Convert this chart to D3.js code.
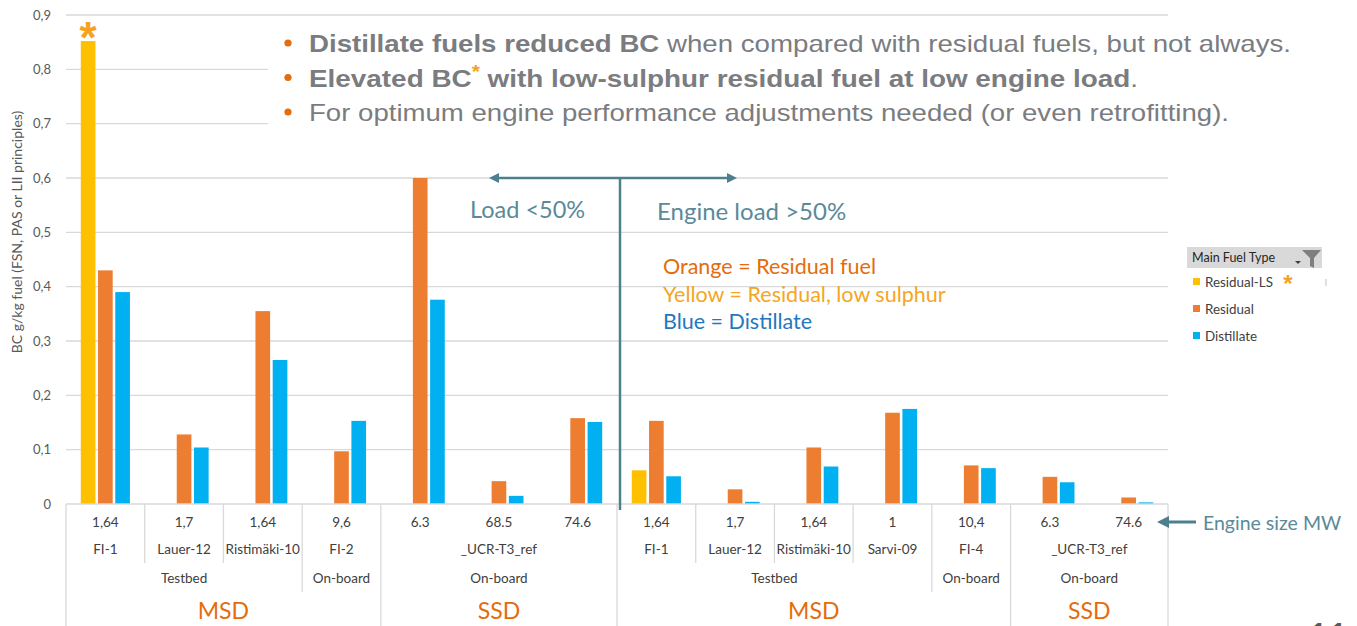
<!DOCTYPE html>
<html>
<head>
<meta charset="utf-8">
<script src="https://cdn.jsdelivr.net/npm/d3@7"></script>
<style>
  body { margin: 0; background: #fff; }
  svg { display: block; }
</style>
</head>
<body>
<svg id="chart" width="1357" height="626"></svg>
<script>
// chart data
var sizes = ["1,64", "1,7", "1,64", "9,6", "6.3", "68.5", "74.6", "1,64", "1,7", "1,64", "1", "10,4", "6.3", "74.6"];
var names = ["FI-1", "Lauer-12", "Ristimäki-10", "FI-2", "_UCR-T3_ref", "_UCR-T3_ref", "_UCR-T3_ref",
             "FI-1", "Lauer-12", "Ristimäki-10", "Sarvi-09", "FI-4", "_UCR-T3_ref", "_UCR-T3_ref"];
var setups = ["Testbed", "Testbed", "Testbed", "On-board", "On-board", "On-board", "On-board",
              "Testbed", "Testbed", "Testbed", "Testbed", "On-board", "On-board", "On-board"];
var engines = ["MSD", "MSD", "MSD", "MSD", "SSD", "SSD", "SSD", "MSD", "MSD", "MSD", "MSD", "MSD", "SSD", "SSD"];

var residualLS = [0.852, null, null, null, null, null, null, 0.062, null, null, null, null, null, null];
var residual   = [0.430, 0.128, 0.355, 0.097, 0.600, 0.042, 0.158, 0.153, 0.027, 0.104, 0.168, 0.071, 0.050, 0.012];
var distillate = [0.390, 0.104, 0.265, 0.153, 0.376, 0.015, 0.151, 0.051, 0.004, 0.069, 0.175, 0.066, 0.040, 0.003];

var yTicks = [0, 0.1, 0.2, 0.3, 0.4, 0.5, 0.6, 0.7, 0.8, 0.9];
var seriesNames = ["Residual-LS", "Residual", "Distillate"];
var seriesColors = ["#ffc000", "#ed7d31", "#00b0f0"];

var svg = d3.select("#chart");
var font = "Lato, 'Open Sans', sans-serif";
var teal = "#4d7f8e";

var x = d3.scaleBand().domain(d3.range(sizes.length)).range([66, 1168]);
var xs = d3.scaleBand().domain(seriesNames).range([13.5, x.bandwidth() - 13.5])
            .paddingInner(0.15).paddingOuter(0.075);
var y = d3.scaleLinear().domain([0, 0.9]).range([504, 15]);

// gridlines
svg.append("g").selectAll("line").data(yTicks.slice(1)).enter().append("line")
   .attr("x1", 66).attr("x2", 1168)
   .attr("y1", d => y(d)).attr("y2", d => y(d))
   .attr("stroke", "#d9d9d9").attr("stroke-width", 1.3);

// y axis labels
var yAxis = d3.axisLeft(y).tickValues(yTicks).tickSize(0).tickPadding(0)
              .tickFormat(d => d === 0 ? "0" : d3.format(".1f")(d).replace(".", ","));
var ya = svg.append("g").attr("transform", "translate(51,0)").call(yAxis);
ya.select(".domain").remove();
ya.selectAll("text").attr("font-family", font).attr("font-size", 13).attr("fill", "#595959");

svg.append("text")
   .attr("transform", "translate(22,232) rotate(-90)")
   .attr("text-anchor", "middle")
   .attr("font-family", font).attr("font-size", 14).attr("fill", "#595959")
   .text("BC g/kg fuel (FSN, PAS or LII principles)");

// bars
var series = [residualLS, residual, distillate];
series.forEach(function(vals, s){
  svg.append("g").selectAll("rect")
     .data(vals.map((v, i) => ({i: i, v: v})).filter(d => d.v != null))
     .enter().append("rect")
     .attr("x", d => x(d.i) + xs(seriesNames[s]))
     .attr("width", xs.bandwidth())
     .attr("y", d => y(d.v))
     .attr("height", d => y(0) - y(d.v))
     .attr("fill", seriesColors[s]);
});

// asterisk on the big yellow bar
svg.append("text")
   .attr("x", x(0) + xs("Residual-LS") + xs.bandwidth() / 2)
   .attr("y", y(residualLS[0]) + 12)
   .attr("text-anchor", "middle")
   .attr("font-family", "'Liberation Sans', Arial, sans-serif").attr("font-weight", "bold")
   .attr("font-size", 44).attr("fill", "#f5a21e").text("*");

// category axis
svg.append("line").attr("x1", 66).attr("x2", 1168).attr("y1", 504).attr("y2", 504)
   .attr("stroke", "#d9d9d9").attr("stroke-width", 1.3);

var n = sizes.length;
var dividers = [{pos: 0, bottom: 626}, {pos: n, bottom: 626}];
for (var i = 1; i < n; i++) {
  var b = null;
  if (engines[i] !== engines[i - 1]) b = 626;
  else if (setups[i] !== setups[i - 1]) b = 592;
  else if (names[i] !== names[i - 1]) b = 563;
  if (b) dividers.push({pos: i, bottom: b});
}
svg.append("g").selectAll("line").data(dividers).enter().append("line")
   .attr("x1", d => d.pos < n ? x(d.pos) : x.range()[1])
   .attr("x2", d => d.pos < n ? x(d.pos) : x.range()[1])
   .attr("y1", 504).attr("y2", d => d.bottom)
   .attr("stroke", "#d9d9d9").attr("stroke-width", 1.3);

// spans for the grouped levels
function spans(keyFn, labelFn) {
  var out = [];
  for (var i = 0; i < n; i++) {
    var k = keyFn(i);
    if (out.length && out[out.length - 1].key === k) out[out.length - 1].end = i;
    else out.push({key: k, start: i, end: i, label: labelFn(i)});
  }
  return out;
}
function mid(s) { return (x(s.start) + x(s.end) + x.bandwidth()) / 2; }

var levels = [
  {data: sizes.map((d, i) => ({start: i, end: i, label: d})), y: 527, size: 13.5, color: "#404040"},
  {data: spans(i => engines[i] + setups[i] + names[i] + (i < 7 ? "a" : "b"), i => names[i]), y: 554, size: 13.5, color: "#404040"},
  {data: spans(i => engines[i] + setups[i] + (i < 7 ? "a" : "b"), i => setups[i]), y: 583, size: 13.5, color: "#404040"},
  {data: spans(i => engines[i] + (i < 7 ? "a" : "b"), i => engines[i]), y: 619, size: 23, color: "#e46c0a"}
];
levels.forEach(function(l){
  svg.append("g").selectAll("text").data(l.data).enter().append("text")
     .attr("x", d => mid(d)).attr("y", l.y)
     .attr("text-anchor", "middle")
     .attr("font-family", font).attr("font-size", l.size).attr("fill", l.color)
     .text(d => d.label);
});

// white box behind the bullets
svg.append("rect").attr("x", 268).attr("y", 24).attr("width", 1089).attr("height", 104).attr("fill", "#fff");

var bullets = [
  {len: 982, parts: [["Distillate fuels reduced BC", "bold"], [" when compared with residual fuels, but not always.", "normal"]]},
  {len: 829, parts: [["Elevated BC", "bold"], ["*", "star"], [" with low-sulphur residual fuel at low engine load", "bold"], [".", "normal"]]},
  {len: 920, parts: [["For optimum engine performance adjustments needed (or even retrofitting).", "normal"]]}
];
bullets.forEach(function(b, k){
  var by = 52 + k * 34.5;
  svg.append("circle").attr("cx", 288).attr("cy", by - 9).attr("r", 3.6).attr("fill", "#e46c0a");
  var t = svg.append("text").attr("x", 309).attr("y", by)
     .attr("font-family", "'Liberation Sans', Arial, sans-serif").attr("font-size", 24)
     .attr("fill", "#7a7c80")
     .attr("textLength", b.len).attr("lengthAdjust", "spacingAndGlyphs");
  b.parts.forEach(function(p){
    var ts = t.append("tspan").text(p[0]);
    if (p[1] === "bold") ts.attr("font-weight", "bold");
    if (p[1] === "star") ts.attr("font-weight", "bold").attr("fill", "#f5a21e")
                           .attr("font-size", 18).attr("dy", -9);
    if (p[1] === "bold" && p[0].charAt(0) === " " && k === 1) ts.attr("dy", 9);
  });
});

// load arrows
var defs = svg.append("defs");
defs.append("marker").attr("id", "ah").attr("viewBox", "0 0 10 10")
    .attr("refX", 5).attr("refY", 5).attr("markerWidth", 4).attr("markerHeight", 4)
    .attr("orient", "auto-start-reverse")
    .append("path").attr("d", "M0,0 L10,5 L0,10 z").attr("fill", teal);
svg.append("line").attr("x1", 494).attr("x2", 732).attr("y1", 178).attr("y2", 178)
   .attr("stroke", teal).attr("stroke-width", 2.5)
   .attr("marker-start", "url(#ah)").attr("marker-end", "url(#ah)");
svg.append("line").attr("x1", 620).attr("x2", 620).attr("y1", 177).attr("y2", 510)
   .attr("stroke", teal).attr("stroke-width", 2.5);
svg.append("text").attr("x", 470).attr("y", 218).attr("font-family", font).attr("font-size", 23.5)
   .attr("fill", "#5a8a99").text("Load <50%");
svg.append("text").attr("x", 657).attr("y", 220).attr("font-family", font).attr("font-size", 24)
   .attr("fill", "#5a8a99").text("Engine load >50%");

var notes = [["Orange = Residual fuel", "#e46c0a"], ["Yellow = Residual, low sulphur", "#f5a623"], ["Blue = Distillate", "#1f78c1"]];
svg.append("g").selectAll("text").data(notes).enter().append("text")
   .attr("x", 663).attr("y", (d, i) => 274 + i * 27.5)
   .attr("font-family", font).attr("font-size", 21.5).attr("fill", d => d[1]).text(d => d[0]);

// engine size arrow
svg.append("line").attr("x1", 1196).attr("x2", 1166).attr("y1", 522).attr("y2", 522)
   .attr("stroke", teal).attr("stroke-width", 3);
svg.append("path").attr("d", "M1157,522 L1169,516 L1169,528 z").attr("fill", teal);
svg.append("text").attr("x", 1203).attr("y", 530).attr("font-family", font).attr("font-size", 19.5)
   .attr("fill", "#5a8a99").text("Engine size MW");

// legend
var lg = svg.append("g");
lg.append("rect").attr("x", 1187).attr("y", 247).attr("width", 135).attr("height", 21).attr("fill", "#d9d9d9");
lg.append("text").attr("x", 1192).attr("y", 262).attr("font-family", font).attr("font-size", 12.5)
  .attr("fill", "#262626").text("Main Fuel Type");
lg.append("path").attr("d", "M1295,261 L1301,261 L1298,264 z").attr("fill", "#404040");
lg.append("path").attr("d", "M1302,250 L1321,250 L1314,258 L1314,268 L1310,266 L1310,258 z").attr("fill", "#7f7f7f");
seriesNames.forEach(function(s, i){
  var cy = 282 + i * 27;
  lg.append("rect").attr("x", 1193).attr("y", cy - 4).attr("width", 7).attr("height", 7).attr("fill", seriesColors[i]);
  lg.append("text").attr("x", 1205).attr("y", cy + 5).attr("font-family", font).attr("font-size", 13.4)
    .attr("fill", "#404040").text(s);
});
lg.append("text").attr("x", 1288).attr("y", 292).attr("text-anchor", "middle")
  .attr("font-family", "'Liberation Sans', Arial, sans-serif").attr("font-weight", "bold")
  .attr("font-size", 24).attr("fill", "#f5a21e").text("*");
lg.append("line").attr("x1", 1326).attr("x2", 1326).attr("y1", 279).attr("y2", 286)
  .attr("stroke", "#bfbfbf").attr("stroke-width", 1);

// slide number peeking from the bottom
svg.append("text").attr("x", 1308).attr("y", 648).attr("font-family", font).attr("font-weight", "bold")
   .attr("font-size", 34).attr("fill", "#595959").text("11");
</script>
</body>
</html>
